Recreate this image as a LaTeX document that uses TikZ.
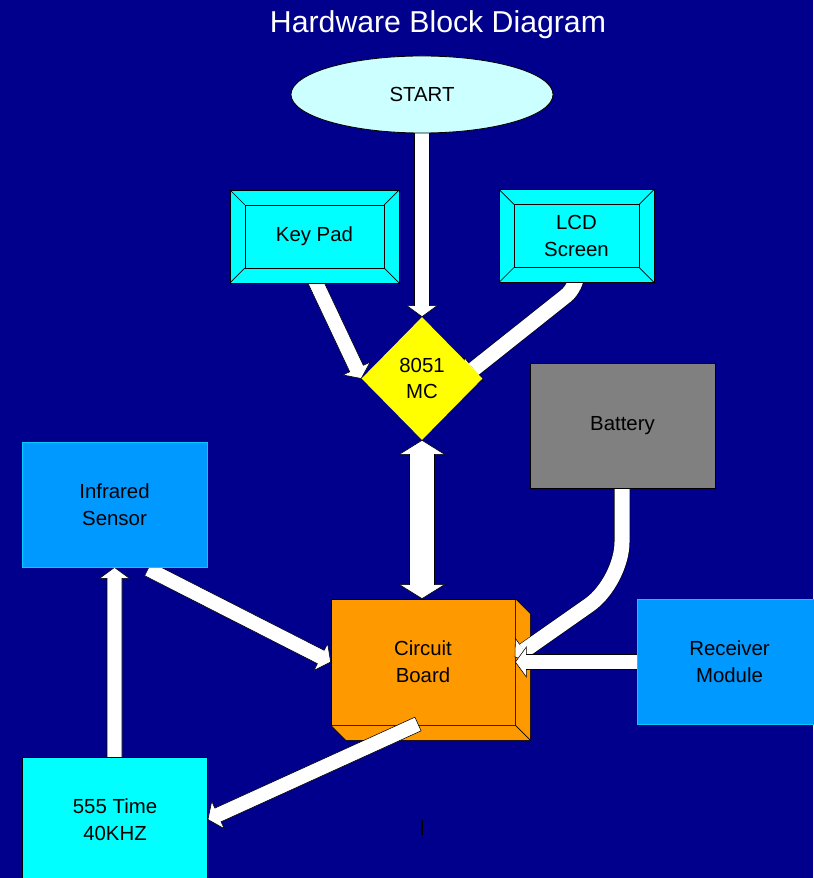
\documentclass[tikz,border=0pt]{standalone}
\usepackage{fontspec}
\setmainfont{Liberation Sans}
\usetikzlibrary{shapes.geometric, calc}

\definecolor{slidebg}{RGB}{0,0,140}
\definecolor{startfill}{RGB}{204,255,255}
\definecolor{padcyan}{RGB}{0,255,255}
\definecolor{sensorblue}{RGB}{0,153,255}
\definecolor{sensoredge}{RGB}{0,204,255}
\definecolor{boardorange}{RGB}{255,153,0}
\definecolor{mcyellow}{RGB}{255,255,0}
\definecolor{battgray}{RGB}{128,128,128}

\pgfdeclarelayer{bg}
\pgfdeclarelayer{arrows}
\pgfsetlayers{bg,arrows,main}

% straight block arrow: tail, tip, half shaft, half head, head length
\newcommand{\blockarrow}[5]{%
  \coordinate (hb) at ($(#2)!#5!(#1)$);
  \filldraw[arrowbody] ($(#1)!#3!90:(#2)$) -- ($(hb)!#3!90:(#2)$) -- ($(hb)!#4!90:(#2)$) -- (#2)
    -- ($(hb)!#4!-90:(#2)$) -- ($(hb)!#3!-90:(#2)$) -- ($(#1)!#3!-90:(#2)$) -- cycle;
}
% block arrow with a head at both ends
\newcommand{\twowayarrow}[5]{%
  \coordinate (ha) at ($(#1)!#5!(#2)$);
  \coordinate (hb) at ($(#2)!#5!(#1)$);
  \filldraw[arrowbody] (#1) -- ($(ha)!#4!90:(#2)$) -- ($(ha)!#3!90:(#2)$) -- ($(hb)!#3!90:(#2)$)
    -- ($(hb)!#4!90:(#2)$) -- (#2) -- ($(hb)!#4!-90:(#2)$) -- ($(hb)!#3!-90:(#2)$)
    -- ($(ha)!#3!-90:(#2)$) -- ($(ha)!#4!-90:(#2)$) -- cycle;
}
% head only, for the bent arrows
\newcommand{\blockhead}[2]{%
  \filldraw[arrowbody] ($(hb)!0.1875cm!90:(#1)$) -- ($(hb)!0.375cm!90:(#1)$) -- (#1)
    -- ($(hb)!0.375cm!-90:(#1)$) -- ($(hb)!0.1875cm!-90:(#1)$);
}

\begin{document}
\begin{tikzpicture}[
  x=0.025cm, y=-0.025cm,
  every node/.style={font=\fontsize{14.5}{19}\selectfont, align=center, inner sep=0pt},
  bevelbox/.style={draw=black, fill=padcyan, line width=0.5pt, minimum width=#1, minimum height=2.325cm,
    path picture={
      \draw[line width=0.5pt] ([shift={(0.375cm,0.375cm)}]path picture bounding box.south west)
        rectangle ([shift={(-0.375cm,-0.375cm)}]path picture bounding box.north east);
      \draw[line width=0.5pt] (path picture bounding box.south west) -- ++(0.375cm,0.375cm)
        (path picture bounding box.south east) -- ++(-0.375cm,0.375cm)
        (path picture bounding box.north west) -- ++(0.375cm,-0.375cm)
        (path picture bounding box.north east) -- ++(-0.375cm,-0.375cm);
    }},
  plainbox/.style={draw=#1, line width=0.6pt, minimum width=4.625cm, minimum height=3.125cm},
  arrowbody/.style={fill=white, draw=black, line width=0.4pt},
  shaftline/.style={draw=black, line width=0.4pt, double=white, double distance=0.375cm, rounded corners=#1}
]
\useasboundingbox (0,0) rectangle (813,878);

% Slide background and the board
\begin{pgfonlayer}{bg}
\fill[slidebg] (0,0) rectangle (813,878);
\node[draw=black, line width=0.5pt, fill=boardorange, minimum width=4.6cm, minimum height=3.15cm] (board) at (423,662) {Circuit\\Board};
\filldraw[draw=black, line width=0.5pt, fill=boardorange]
  (board.north east) -- ++(0.375cm,-0.375cm) -- ([shift={(0.375cm,-0.375cm)}]board.south east) -- (board.south east) -- cycle
  (board.south west) -- ++(0.375cm,-0.375cm) -- ([shift={(0.375cm,-0.375cm)}]board.south east) -- (board.south east) -- cycle;
\end{pgfonlayer}

\node[anchor=base, text=white, font=\fontsize{21.5}{26}\selectfont] (title) at (438,33) {Hardware Block Diagram};

% Blocks
\node[ellipse, draw=black, line width=0.6pt, fill=startfill, minimum width=6.55cm, minimum height=1.925cm] (start) at (422,94.5) {START};
\node[bevelbox=4.225cm] (keypad) at (314.5,236.5) {Key Pad};
\node[bevelbox=3.875cm] (lcd) at (576.5,236) {LCD\\Screen};
\node[diamond, aspect=1, fill=mcyellow, minimum width=3.025cm, minimum height=3.075cm] (mc) at (422,378.5) {8051\\MC};
\node[plainbox=black, fill=battgray] (battery) at (622.5,425.5) {Battery};
\node[plainbox=sensoredge, fill=sensorblue] (sensor) at (114.5,504.5) {Infrared\\Sensor};
\node[plainbox=sensoredge, fill=sensorblue] (receiver) at (729.5,662) {Receiver\\Module};
\node[plainbox=black, fill=padcyan] (timer) at (115,819.5) {555 Time\\40KHZ};

\coordinate (padtail) at (310,270);
\coordinate (lcdtail) at (577,262);
\coordinate (lcdbend) at (577,287);
\coordinate (lcdtip) at (465,376);
\coordinate (batttail) at (622,470);
\coordinate (battbend) at (622,582);
\coordinate (batttip) at (515,657);
\coordinate (sensortail) at (148,569);
\coordinate (boardtail) at (418,724);
\coordinate (timertail) at (sensor.south |- timer.center);
\coordinate (boardtop) at (mc.south |- board.north);
\coordinate (cursor) at (422,820);

% Block arrows
\begin{pgfonlayer}{arrows}
\blockarrow{start.center}{mc.north}{0.1875cm}{0.375cm}{0.275cm}
\blockarrow{padtail}{mc.west}{0.1875cm}{0.375cm}{0.275cm}
\coordinate (hb) at ($(lcdtip)!0.275cm!(lcdbend)$);
\draw[shaftline=0.35cm] (lcdtail) -- (lcdbend) -- (hb);
\blockhead{lcdtip}{lcdbend}
\twowayarrow{mc.south}{boardtop}{0.3125cm}{0.5625cm}{0.35cm}
\coordinate (hb) at ($(batttip)!0.275cm!(battbend)$);
\draw[shaftline=1cm] (batttail) -- (battbend) -- (hb);
\blockhead{batttip}{battbend}
\blockarrow{receiver.center}{board.east}{0.1875cm}{0.375cm}{0.275cm}
\blockarrow{sensortail}{board.west}{0.1875cm}{0.375cm}{0.275cm}
\blockarrow{boardtail}{timer.east}{0.1875cm}{0.375cm}{0.275cm}
\blockarrow{timertail}{sensor.south}{0.1875cm}{0.375cm}{0.275cm}
\end{pgfonlayer}

\draw[black, line width=0.9pt] (cursor) -- ++(0,15);

\end{tikzpicture}
\end{document}
